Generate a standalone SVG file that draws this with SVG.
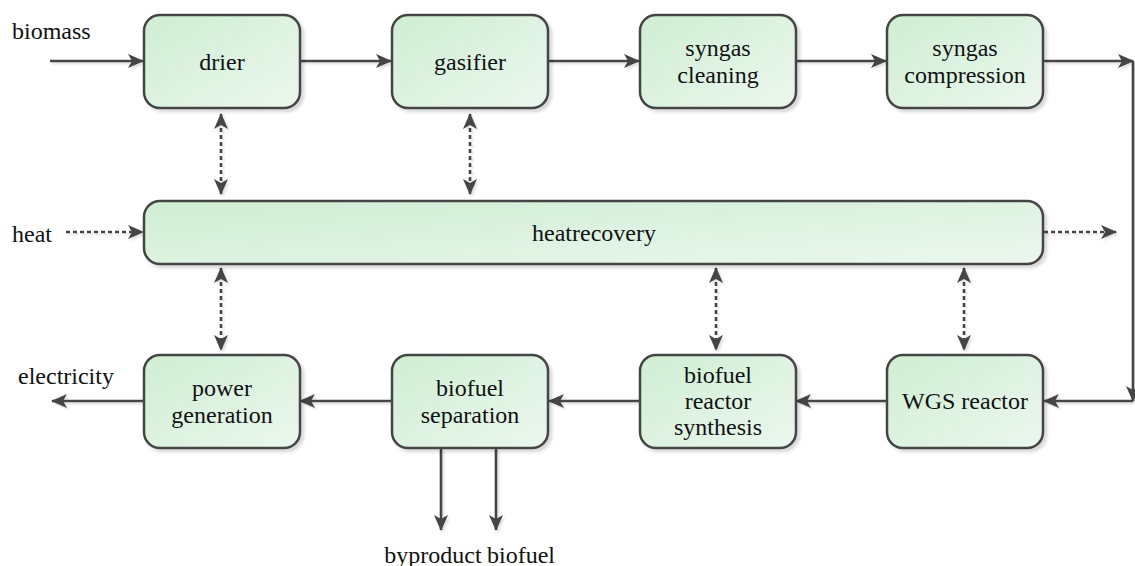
<svg xmlns="http://www.w3.org/2000/svg" width="1135" height="566" viewBox="0 0 1135 566">
<style>
.box{fill:url(#g);stroke:#444;stroke-width:2.5;filter:url(#sh)}
.t{font-family:"Liberation Serif",serif;font-size:24px;fill:#111;text-anchor:middle}
.l{font-family:"Liberation Serif",serif;font-size:24px;fill:#111}
.c{stroke:#444;stroke-width:2.6;fill:none}
.d{stroke-dasharray:4,3}
</style>
<defs>
<linearGradient id="g" x1="0" y1="0" x2="1" y2="1">
<stop offset="0" stop-color="#cfeed3"/>
<stop offset="1" stop-color="#ecf7ee"/>
</linearGradient>
<filter id="sh" x="-10%" y="-10%" width="130%" height="140%">
<feDropShadow dx="3" dy="3" stdDeviation="1.5" flood-color="#000" flood-opacity="0.15"/>
</filter>
<filter id="sh2" filterUnits="userSpaceOnUse" x="0" y="0" width="1135" height="566">
<feDropShadow dx="2" dy="2" stdDeviation="1" flood-color="#000" flood-opacity="0.12"/>
</filter>
<marker id="a" viewBox="0 0 16 14" refX="15" refY="7" markerWidth="16" markerHeight="14" markerUnits="userSpaceOnUse" orient="auto-start-reverse">
<path d="M0,0 L16,7 L0,14 L4,7 Z" fill="#444"/>
</marker>
</defs>
<g id="connectors" filter="url(#sh2)">
<line class="c" x1="50" y1="61" x2="143" y2="61" marker-end="url(#a)"/>
<line class="c" x1="300" y1="61" x2="391" y2="61" marker-end="url(#a)"/>
<line class="c" x1="549" y1="61" x2="639" y2="61" marker-end="url(#a)"/>
<line class="c" x1="796" y1="61" x2="886" y2="61" marker-end="url(#a)"/>
<line class="c" x1="1044" y1="61" x2="1133" y2="61" marker-end="url(#a)"/>
<line class="c" x1="1133" y1="61" x2="1133" y2="401" marker-end="url(#a)"/>
<line class="c" x1="1133" y1="401" x2="1044" y2="401" marker-end="url(#a)"/>
<line class="c" x1="887" y1="401" x2="796" y2="401" marker-end="url(#a)"/>
<line class="c" x1="640" y1="401" x2="549" y2="401" marker-end="url(#a)"/>
<line class="c" x1="392" y1="401" x2="300" y2="401" marker-end="url(#a)"/>
<line class="c" x1="144" y1="401" x2="52" y2="401" marker-end="url(#a)"/>
<line class="c" x1="441" y1="449" x2="441" y2="530" marker-end="url(#a)"/>
<line class="c" x1="496" y1="449" x2="496" y2="530" marker-end="url(#a)"/>
<line class="c d" x1="66" y1="232" x2="143" y2="232" marker-end="url(#a)"/>
<line class="c d" x1="1044" y1="232" x2="1116" y2="232" marker-end="url(#a)"/>
<line class="c d" x1="221" y1="114" x2="221" y2="194" marker-start="url(#a)" marker-end="url(#a)"/>
<line class="c d" x1="470" y1="114" x2="470" y2="194" marker-start="url(#a)" marker-end="url(#a)"/>
<line class="c d" x1="221" y1="268" x2="221" y2="350" marker-start="url(#a)" marker-end="url(#a)"/>
<line class="c d" x1="716" y1="268" x2="716" y2="350" marker-start="url(#a)" marker-end="url(#a)"/>
<line class="c d" x1="964" y1="268" x2="964" y2="350" marker-start="url(#a)" marker-end="url(#a)"/>
</g>
<g id="drier"><rect class="box" x="144" y="15" width="156" height="93" rx="16"/><text class="t" x="222" y="70">drier</text></g>
<g id="gasifier"><rect class="box" x="392" y="15" width="156" height="93" rx="16"/><text class="t" x="470" y="70">gasifier</text></g>
<g id="syngas-cleaning"><rect class="box" x="640" y="15" width="156" height="93" rx="16"/><text class="t" x="718" y="56">syngas</text><text class="t" x="718" y="83">cleaning</text></g>
<g id="syngas-compression"><rect class="box" x="887" y="15" width="156" height="93" rx="16"/><text class="t" x="965" y="56">syngas</text><text class="t" x="965" y="83">compression</text></g>
<g id="heatrecovery"><rect class="box" x="144" y="201" width="899" height="63" rx="16"/><text class="t" x="594" y="241">heatrecovery</text></g>
<g id="power-generation"><rect class="box" x="144" y="355" width="156" height="93" rx="16"/><text class="t" x="222" y="396">power</text><text class="t" x="222" y="423">generation</text></g>
<g id="biofuel-separation"><rect class="box" x="392" y="355" width="156" height="93" rx="16"/><text class="t" x="470" y="396">biofuel</text><text class="t" x="470" y="423">separation</text></g>
<g id="biofuel-reactor-synthesis"><rect class="box" x="640" y="355" width="156" height="93" rx="16"/><text class="t" x="718" y="383">biofuel</text><text class="t" x="718" y="409">reactor</text><text class="t" x="718" y="435">synthesis</text></g>
<g id="wgs-reactor"><rect class="box" x="887" y="355" width="156" height="93" rx="16"/><text class="t" x="965" y="409">WGS reactor</text></g>
<g id="labels">
<text class="l" x="12" y="39">biomass</text>
<text class="l" x="12" y="242">heat</text>
<text class="l" x="18" y="384">electricity</text>
<text class="l" x="433" y="563" text-anchor="middle">byproduct</text>
<text class="l" x="521" y="563" text-anchor="middle">biofuel</text>
</g>
</svg>
